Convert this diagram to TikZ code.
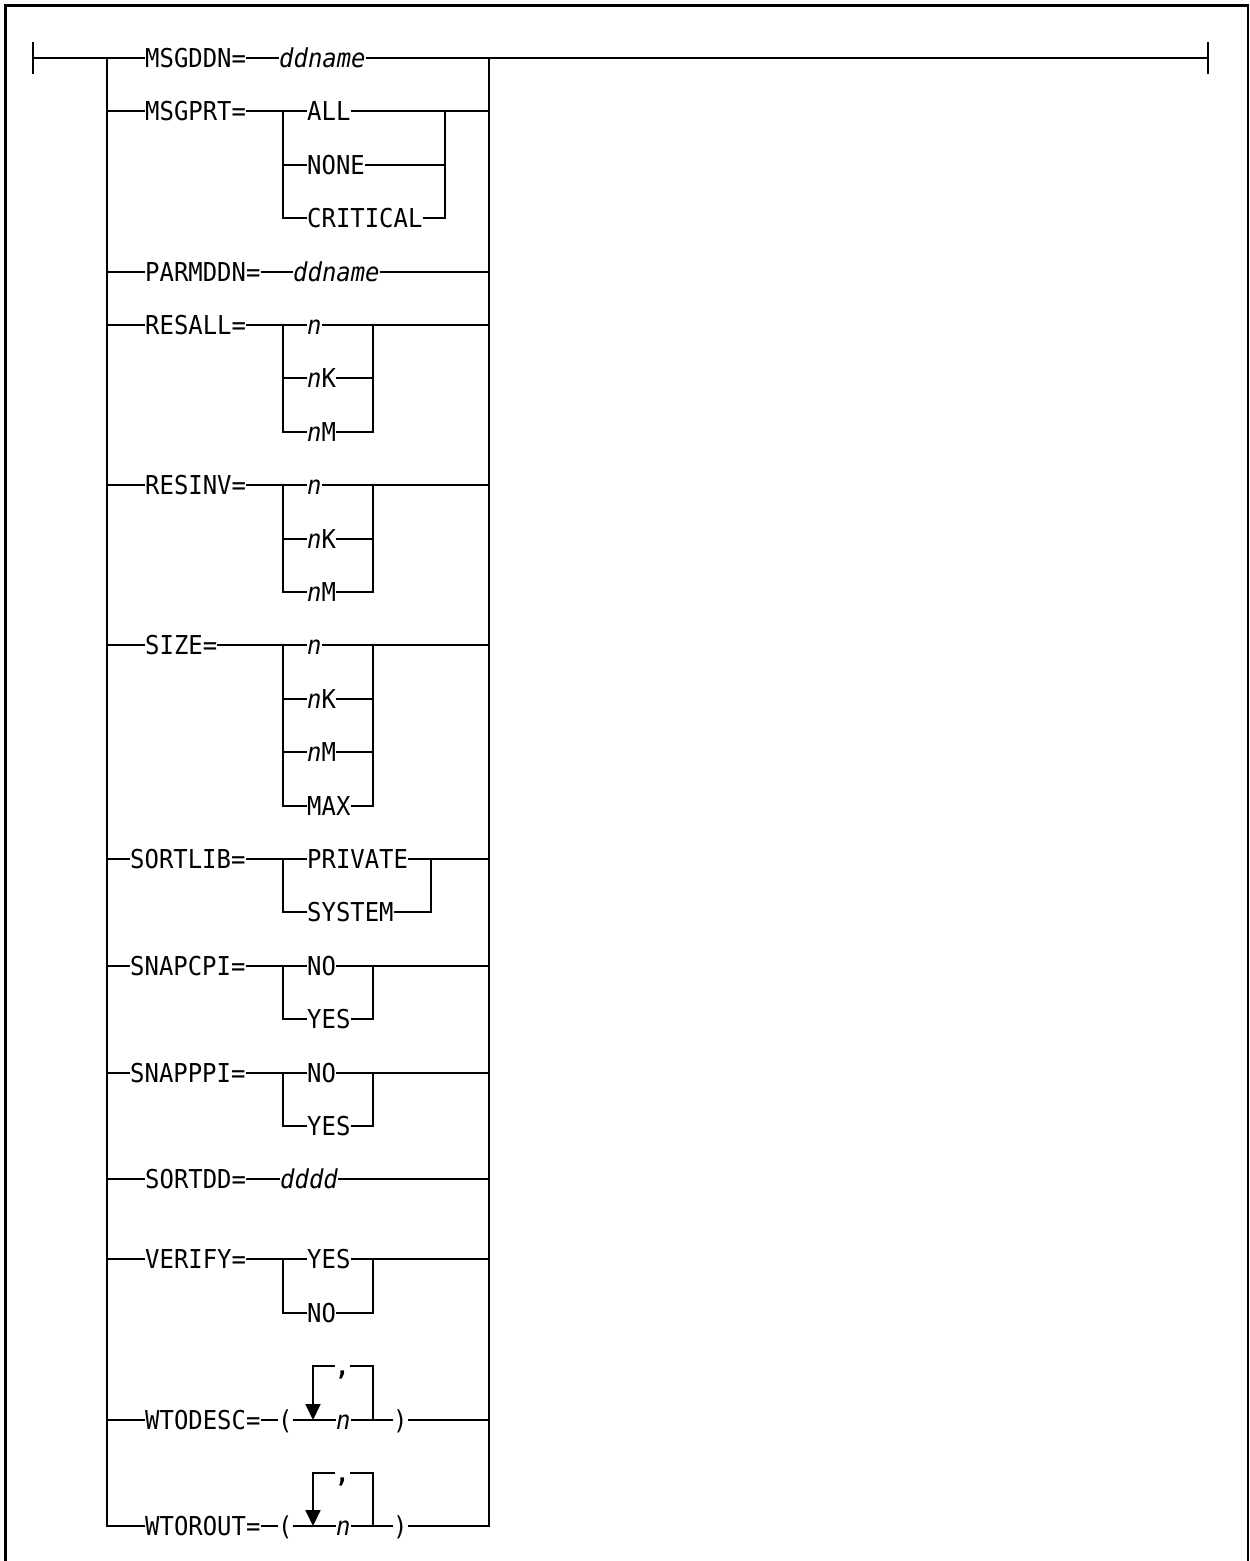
\documentclass[tikz,border=0pt]{standalone}
\usepackage{fontspec}
\setmonofont[FakeStretch=0.92]{DejaVu Sans Mono}
\usetikzlibrary{arrows.meta,calc}

\begin{document}
\begin{tikzpicture}[x=1pt,y=-1pt,
  synkw/.style={inner sep=0pt,text height=19pt,text depth=0pt,anchor=west,
    font=\fontsize{26}{30}\selectfont\ttfamily},
  synvar/.style={synkw,font=\fontsize{26}{30}\selectfont\ttfamily\itshape},
  synline/.style={line width=1.8pt},
  synbar/.style={line width=2.3pt},
  synrepeat/.style={synline,-{Triangle[length=16pt,width=15pt]}}
]
  \useasboundingbox (0,0) rectangle (1250,1561);
  % frame, open at the bottom
  \draw[line width=2.5pt] (5.5,1561) -- (5.5,5.5) -- (1248,5.5) -- (1248,1561);

  % main line and rails
  \coordinate (start) at (33,58);
  \coordinate (stop) at (1208,58);
  \coordinate (railL) at (107,58);
  \coordinate (railR) at (489,58);
  \coordinate (railLend) at (107,1526);
  \coordinate (railRend) at (489,1526);
  \draw[synbar] ($(start)+(0,-16)$) -- ($(start)+(0,16)$);
  \draw[synbar] ($(stop)+(0,-16)$) -- ($(stop)+(0,16)$);

  % MSGDDN
  \node[synkw] (msgddn) at (145,58) {MSGDDN=};
  \node[synvar] (msgddnv) at (279,58) {ddname};
  \draw[synline] (start) -- (msgddn) -- (msgddnv) -- (stop);

  % MSGPRT
  \node[synkw] (msgprt) at (145,111) {MSGPRT=};
  \coordinate (msgprtL) at (283,111);
  \coordinate (msgprtR) at (445,111);
  \node[synkw] (msgprt1) at (307,111) {ALL};
  \node[synkw] (msgprt2) at (307,165) {NONE};
  \node[synkw] (msgprt3) at (307,218) {CRITICAL};
  \draw[synline] (railL |- msgprt) -- (msgprt) -- (msgprt1) -- (railR |- msgprt1);
  \draw[synline] (msgprtL) |- (msgprt3) -| (msgprtR);
  \draw[synline] (msgprtL |- msgprt2) -- (msgprt2) -- (msgprtR |- msgprt2);

  % PARMDDN
  \node[synkw] (parmddn) at (145,272) {PARMDDN=};
  \node[synvar] (parmddnv) at (293,272) {ddname};
  \draw[synline] (railL |- parmddn) -- (parmddn) -- (parmddnv) -- (railR |- parmddnv);

  % RESALL
  \node[synkw] (resall) at (145,325) {RESALL=};
  \coordinate (resallL) at (283,325);
  \coordinate (resallR) at (373,325);
  \node[synkw] (resall1) at (307,325) {\textit{n}};
  \node[synkw] (resall2) at (307,378) {\textit{n}K};
  \node[synkw] (resall3) at (307,432) {\textit{n}M};
  \draw[synline] (railL |- resall) -- (resall) -- (resall1) -- (railR |- resall1);
  \draw[synline] (resallL) |- (resall3) -| (resallR);
  \draw[synline] (resallL |- resall2) -- (resall2) -- (resallR |- resall2);

  % RESINV
  \node[synkw] (resinv) at (145,485) {RESINV=};
  \coordinate (resinvL) at (283,485);
  \coordinate (resinvR) at (373,485);
  \node[synkw] (resinv1) at (307,485) {\textit{n}};
  \node[synkw] (resinv2) at (307,539) {\textit{n}K};
  \node[synkw] (resinv3) at (307,592) {\textit{n}M};
  \draw[synline] (railL |- resinv) -- (resinv) -- (resinv1) -- (railR |- resinv1);
  \draw[synline] (resinvL) |- (resinv3) -| (resinvR);
  \draw[synline] (resinvL |- resinv2) -- (resinv2) -- (resinvR |- resinv2);

  % SIZE
  \node[synkw] (size) at (145,645) {SIZE=};
  \coordinate (sizeL) at (283,645);
  \coordinate (sizeR) at (373,645);
  \node[synkw] (size1) at (307,645) {\textit{n}};
  \node[synkw] (size2) at (307,699) {\textit{n}K};
  \node[synkw] (size3) at (307,752) {\textit{n}M};
  \node[synkw] (size4) at (307,806) {MAX};
  \draw[synline] (railL |- size) -- (size) -- (size1) -- (railR |- size1);
  \draw[synline] (sizeL) |- (size4) -| (sizeR);
  \draw[synline] (sizeL |- size2) -- (size2) -- (sizeR |- size2);
  \draw[synline] (sizeL |- size3) -- (size3) -- (sizeR |- size3);

  % SORTLIB
  \node[synkw] (sortlib) at (130,859) {SORTLIB=};
  \coordinate (sortlibL) at (283,859);
  \coordinate (sortlibR) at (431,859);
  \node[synkw] (sortlib1) at (307,859) {PRIVATE};
  \node[synkw] (sortlib2) at (307,912) {SYSTEM};
  \draw[synline] (railL |- sortlib) -- (sortlib) -- (sortlib1) -- (railR |- sortlib1);
  \draw[synline] (sortlibL) |- (sortlib2) -| (sortlibR);

  % SNAPCPI
  \node[synkw] (snapcpi) at (130,966) {SNAPCPI=};
  \coordinate (snapcpiL) at (283,966);
  \coordinate (snapcpiR) at (373,966);
  \node[synkw] (snapcpi1) at (307,966) {NO};
  \node[synkw] (snapcpi2) at (307,1019) {YES};
  \draw[synline] (railL |- snapcpi) -- (snapcpi) -- (snapcpi1) -- (railR |- snapcpi1);
  \draw[synline] (snapcpiL) |- (snapcpi2) -| (snapcpiR);

  % SNAPPPI
  \node[synkw] (snapppi) at (130,1073) {SNAPPPI=};
  \coordinate (snapppiL) at (283,1073);
  \coordinate (snapppiR) at (373,1073);
  \node[synkw] (snapppi1) at (307,1073) {NO};
  \node[synkw] (snapppi2) at (307,1126) {YES};
  \draw[synline] (railL |- snapppi) -- (snapppi) -- (snapppi1) -- (railR |- snapppi1);
  \draw[synline] (snapppiL) |- (snapppi2) -| (snapppiR);

  % SORTDD
  \node[synkw] (sortdd) at (145,1179) {SORTDD=};
  \node[synvar] (sortddv) at (280,1179) {dddd};
  \draw[synline] (railL |- sortdd) -- (sortdd) -- (sortddv) -- (railR |- sortddv);

  % VERIFY
  \node[synkw] (verify) at (145,1259) {VERIFY=};
  \coordinate (verifyL) at (283,1259);
  \coordinate (verifyR) at (373,1259);
  \node[synkw] (verify1) at (307,1259) {YES};
  \node[synkw] (verify2) at (307,1313) {NO};
  \draw[synline] (railL |- verify) -- (verify) -- (verify1) -- (railR |- verify1);
  \draw[synline] (verifyL) |- (verify2) -| (verifyR);

  % WTODESC
  \node[synkw] (wtodesc) at (145,1420) {WTODESC=};
  \node[synkw] (wtodescl) at (278,1420) {(};
  \node[synvar] (wtodescn) at (336,1420) {n};
  \node[synkw] (wtodescr) at (393,1420) {)};
  \node[synkw] (wtodescc) at (335,1366) {\textbf{,}};
  \coordinate (wtodescBL) at (313,1420);
  \coordinate (wtodescTL) at (313,1366);
  \coordinate (wtodescBR) at (373,1420);
  \coordinate (wtodescTR) at (373,1366);
  \draw[synline] (railL |- wtodesc) -- (wtodesc) -- (wtodescl) -- (wtodescn) -- (wtodescr) -- (railR |- wtodescr);
  \draw[synline] (wtodescBR) -- (wtodescTR) -- (wtodescc);
  \draw[synrepeat] (wtodescc) -- (wtodescTL) -- (wtodescBL);

  % WTOROUT
  \node[synkw] (wtorout) at (145,1526) {WTOROUT=};
  \node[synkw] (wtoroutl) at (278,1526) {(};
  \node[synvar] (wtoroutn) at (336,1526) {n};
  \node[synkw] (wtoroutr) at (393,1526) {)};
  \node[synkw] (wtoroutc) at (335,1473) {\textbf{,}};
  \coordinate (wtoroutBL) at (313,1526);
  \coordinate (wtoroutTL) at (313,1473);
  \coordinate (wtoroutBR) at (373,1526);
  \coordinate (wtoroutTR) at (373,1473);
  \draw[synline] (railL) -- (railLend) -- (wtorout) -- (wtoroutl) -- (wtoroutn) -- (wtoroutr) -- (railRend) -- (railR);
  \draw[synline] (wtoroutBR) -- (wtoroutTR) -- (wtoroutc);
  \draw[synrepeat] (wtoroutc) -- (wtoroutTL) -- (wtoroutBL);
\end{tikzpicture}
\end{document}
